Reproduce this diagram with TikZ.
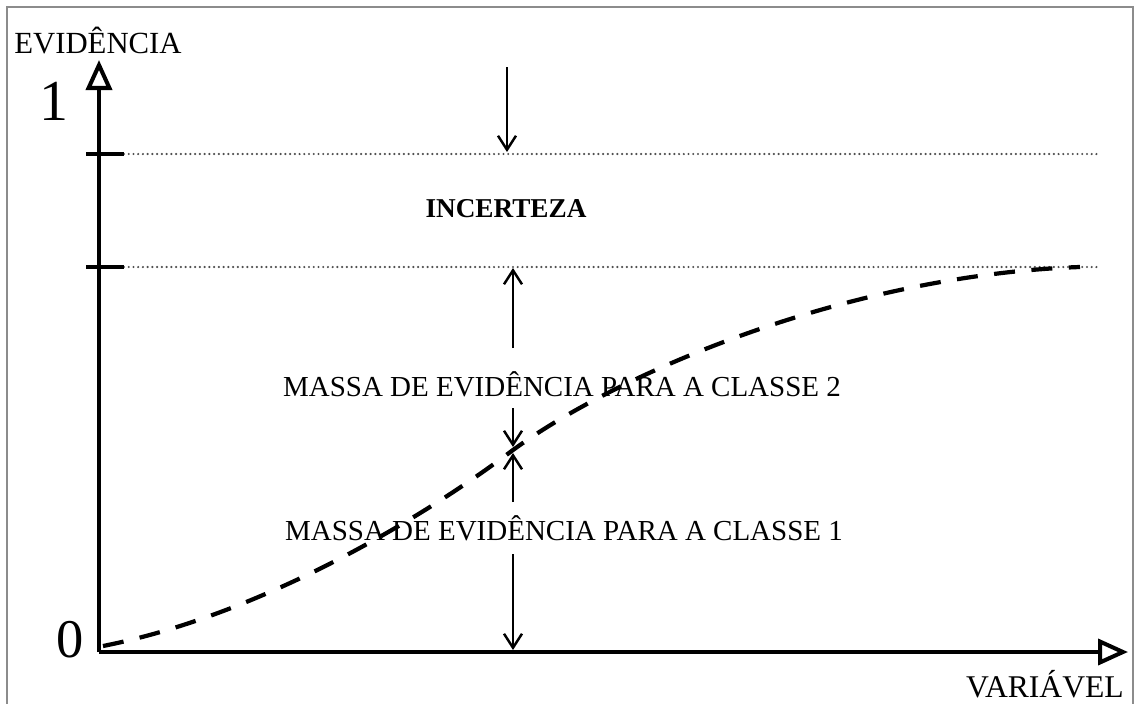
\documentclass[tikz,border=0pt]{standalone}
\usepackage{fontspec}
\setmainfont{Liberation Serif}
\usetikzlibrary{arrows.meta}
\definecolor{framecol}{RGB}{140,140,140}
\definecolor{dotcol}{RGB}{80,80,80}

\begin{document}
\begin{tikzpicture}[x=0.02cm, y=-0.02cm,
    axis/.style={line width=2.3pt, -{Triangle[open,length=0.6cm,width=0.52cm]}},
    tick/.style={line width=2.3pt},
    level/.style={dotcol, line width=1.4pt, line cap=round, dash pattern=on 0pt off 2.7pt},
    mass/.style={line width=1.4pt, -{Straight Barb[length=0.28cm,width=0.36cm]}},
    curve/.style={line width=2.4pt, dash pattern=on 0.42cm off 0.33cm},
    lbl/.style={anchor=base, inner sep=0pt, font=\fontsize{16.5}{18}\selectfont}]

    \useasboundingbox (0,0) rectangle (1134,704);

    % Frame
    \draw[framecol, line width=0.6pt] (7,704) -- (7,7) -- (1133,7) -- (1133,704);

    % Points of the axes and levels
    \coordinate (o) at (99,652);
    \coordinate (ytip) at (99,60);
    \coordinate (xtip) at (1128,652);
    \coordinate (t1l) at (86,154);
    \coordinate (t1r) at (124,154);
    \coordinate (t2l) at (86,267);
    \coordinate (t2r) at (124,267);
    \coordinate (d1) at (1100,154);
    \coordinate (d2) at (1100,267);

    % Dotted levels and ticks
    \draw[level] (t1r) -- (d1);
    \draw[level] (t2r) -- (d2);
    \draw[tick] (t1l) -- (t1r);
    \draw[tick] (t2l) -- (t2r);

    % Evidence curve
    \coordinate (c0) at (103,646);
    \coordinate (mid) at (513,450);
    \coordinate (c1) at (1080,267);
    \draw[curve] (c0) .. controls (260,615) and (420,520) .. (mid)
        .. controls (620,372) and (850,275) .. (c1);

    % Draw axes
    \draw[axis] (o) -- (ytip);
    \draw[axis] (o) -- (xtip);

    % Labels
    \node[lbl] (ylab) at (98,53) {\fontsize{17.5}{19}\selectfont EVIDÊNCIA};
    \node[lbl] (xlab) at (1045,697) {\fontsize{18}{20}\selectfont VARIÁVEL};
    \node[lbl] (one) at (54,120) {\fontsize{33}{36}\selectfont 1};
    \node[lbl] (zero) at (70,657) {\fontsize{31}{34}\selectfont 0};
    \node[lbl] (unc) at (506,217) {\fontsize{15.5}{17}\selectfont\bfseries INCERTEZA};
    \node[lbl] (m2) at (562,396) {MASSA DE EVIDÊNCIA PARA A CLASSE 2};
    \node[lbl] (m1) at (564,540) {MASSA DE EVIDÊNCIA PARA A CLASSE 1};

    % Arrows of the masses
    \coordinate (a0) at (507,67);
    \coordinate (a1) at (507,152);
    \coordinate (b0) at (513,348);
    \coordinate (b1) at (513,268);
    \coordinate (b2) at (513,408);
    \coordinate (b3) at (513,447);
    \coordinate (b4) at (513,502);
    \coordinate (b5) at (513,453);
    \coordinate (b6) at (513,554);
    \coordinate (b7) at (513,650);
    \draw[mass] (a0) -- (a1);
    \draw[mass] (b0) -- (b1);
    \draw[mass] (b2) -- (b3);
    \draw[mass] (b4) -- (b5);
    \draw[mass] (b6) -- (b7);

\end{tikzpicture}
\end{document}
